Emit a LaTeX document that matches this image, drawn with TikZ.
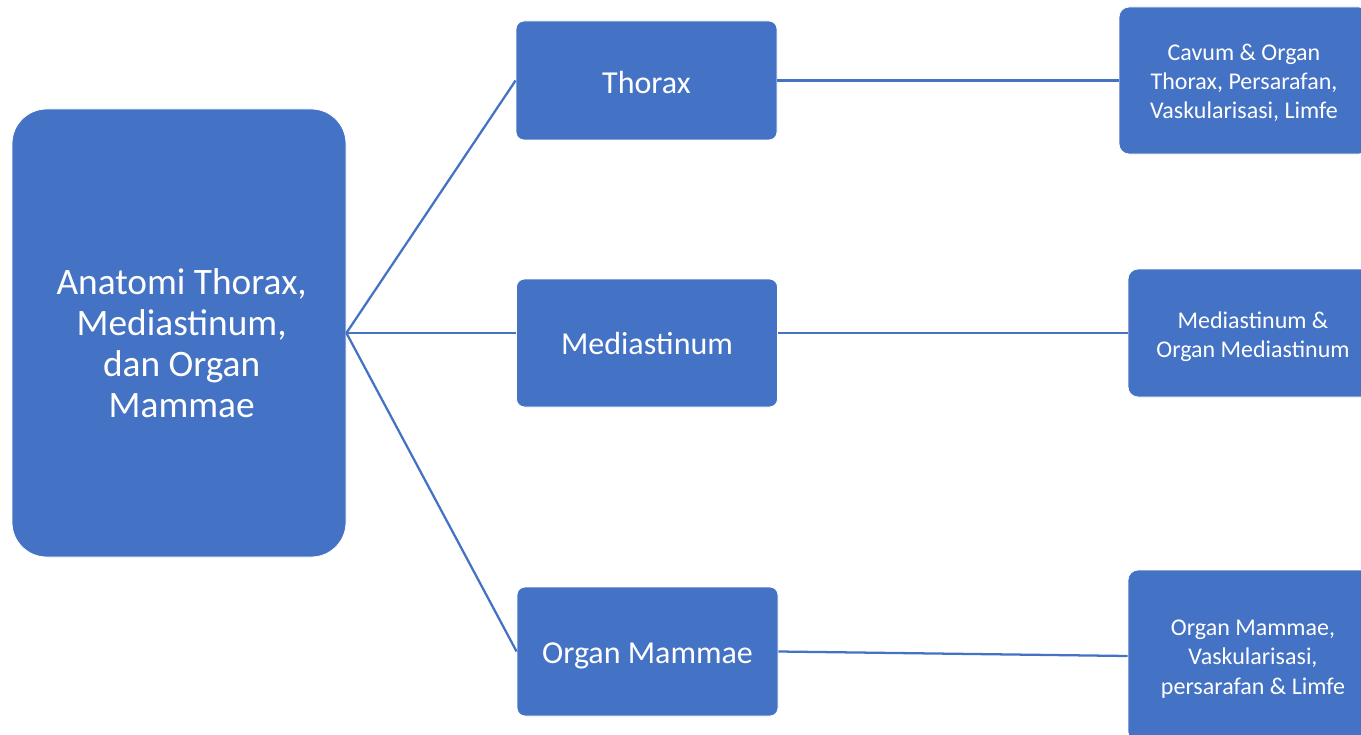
\documentclass[tikz,border=0pt]{standalone}
\usepackage{fontspec}
\setmainfont{Carlito}
\definecolor{biru}{HTML}{4472C4}
\tikzstyle{kotak}=[draw=white, line width=0.6pt, fill=biru, text=white,
  align=center, inner sep=0pt]
\tikzstyle{utama}=[kotak, minimum width=250.5pt, minimum height=336pt,
  rounded corners=26pt, font=\fontsize{28}{30.75}\selectfont]
\tikzstyle{topik}=[kotak, minimum width=195.75pt, rounded corners=6pt,
  font=\fontsize{24}{29}\selectfont]
\tikzstyle{rincian}=[kotak, minimum width=187.5pt, rounded corners=7.5pt,
  font=\fontsize{18}{22}\selectfont]
\tikzstyle{line}=[draw, line width=1.7pt, color=biru]
% text of a box, lowered a little
\newcommand{\teks}[2]{\raisebox{-#1}[\height][\depth]{%
  \begin{tabular}{@{}c@{}}#2\end{tabular}}}

\begin{document}
\begin{tikzpicture}[x=0.75pt, y=-0.75pt]
\useasboundingbox (0,0) rectangle (1361,735);
\clip (0,0) rectangle (1361,735);

  % Draw diagram elements
\path (179,333) node (main)[utama]
  {\hspace{4pt}\teks{11.25pt}{Anatomi Thorax,\\Mediastinum,\\dan Organ\\Mammae}};

\path (646.5,80.5) node (p1)[topik, minimum height=89.25pt] {\teks{3.75pt}{Thorax}};
\path (647,343) node (p2)[topik, minimum height=96pt] {\teks{3pt}{Mediastinum}};
\path (647.5,651.5) node (p3)[topik, minimum height=96.75pt] {\teks{3pt}{Organ Mammae}};

\path (1244,80.5) node (r1)[rincian, minimum height=110.25pt]
  {\teks{2.25pt}{Cavum \& Organ\\Thorax, Persarafan,\\Vaskularisasi, Limfe}};
\path (1253,333) node (r2)[rincian, minimum height=96pt]
  {\teks{3pt}{Mediastinum \&\\Organ Mediastinum}};
\path (1253,656) node (r3)[rincian, minimum height=129pt]
  {\teks{2.25pt}{Organ Mammae,\\Vaskularisasi,\\persarafan \& Limfe}};

  % Draw connectors
\path [line] (main.east) -- (p1.west);
\path [line] (main.east) -- (p2.west |- main.east);
\path [line] (main.east) -- (p3.west);

\path [line] (p1.east) -- (r1.west);
\path [line] (p2.east |- main.east) -- (r2.west);
\path [line] (p3.east) -- (r3.west);
\end{tikzpicture}
\end{document}
